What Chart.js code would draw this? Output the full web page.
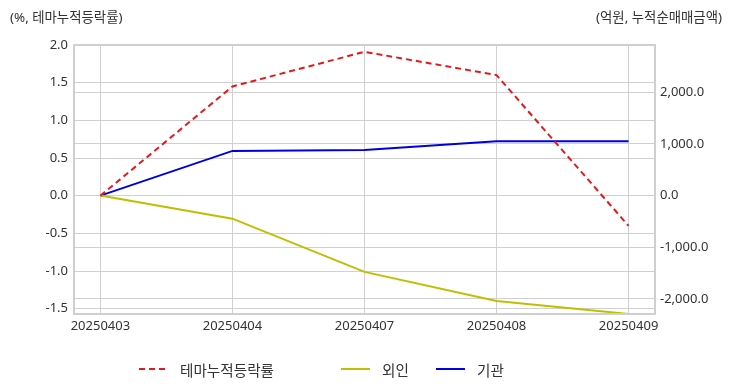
<!DOCTYPE html>
<html>
<head>
<meta charset="utf-8">
<script src="https://cdn.jsdelivr.net/npm/chart.js@4"></script>
<style>
  body { margin: 0; background: #fff; font-family: "Noto Sans", "Noto Sans CJK KR", sans-serif; }
  #wrap { position: relative; width: 732px; height: 392px; }
  #chart { position: absolute; left: 0; top: 0; }
  .unit { position: absolute; top: 6px; font-size: 13.4px; color: #333; }
  #legend { position: absolute; top: 359px; left: 0; width: 732px; height: 20px; font-size: 14.6px; color: #333; }
  .item { position: absolute; top: 0; display: flex; align-items: center; height: 20px; }
  .item svg { margin-right: 12px; }
</style>
</head>
<body>
<div id="wrap">
  <canvas id="chart" width="732" height="392"></canvas>
  <div class="unit" style="left:10px">(%, 테마누적등락률)</div>
  <div class="unit" style="right:10px">(억원, 누적순매매금액)</div>
  <div id="legend"></div>
</div>
<script>
const dates = ["20250403", "20250404", "20250407", "20250408", "20250409"];
const themeRate = [0.0, 1.45, 1.91, 1.60, -0.40];    // %, 왼쪽 축
const foreign = [0, -447, -1476, -2039, -2290];      // 억원, 오른쪽 축
const institution = [0, 864, 883, 1049, 1049];       // 억원, 오른쪽 축
const leftTicks = [-1.5, -1.0, -0.5, 0.0, 0.5, 1.0, 1.5, 2.0];
const rightTicks = [-2000, -1000, 0, 1000, 2000];

const series = [
  { label: "테마누적등락률", data: themeRate, color: "#e31a1c", dash: [6, 4], axis: "yL" },
  { label: "외인", data: foreign, color: "#bfbf00", dash: [], axis: "yR" },
  { label: "기관", data: institution, color: "#0000dd", dash: [], axis: "yR" }
];

const gridColor = "#d0d0d0";
const tickFont = { family: "'Noto Sans', 'Noto Sans CJK KR', sans-serif", size: 13 };

// 테두리
const frame = {
  id: "frame",
  afterDraw(chart) {
    const a = chart.chartArea, ctx = chart.ctx;
    ctx.save();
    ctx.strokeStyle = "#cfcfcf";
    ctx.lineWidth = 2;
    ctx.strokeRect(a.left, a.top, a.right - a.left, a.bottom - a.top);
    ctx.restore();
  }
};

new Chart(document.getElementById("chart"), {
  type: "line",
  data: {
    datasets: series.map(s => ({
      label: s.label,
      data: s.data.map((v, i) => ({ x: i, y: v })),
      borderColor: s.color,
      borderDash: s.dash,
      borderWidth: 2,
      pointRadius: 0,
      tension: 0,
      yAxisID: s.axis
    }))
  },
  options: {
    responsive: false,
    animation: false,
    layout: { padding: { top: 45, left: 0, right: 0, bottom: 0 } },
    plugins: { legend: { display: false }, tooltip: { enabled: false } },
    scales: {
      x: {
        type: "linear",
        min: -0.2,
        max: 4.2,
        afterBuildTicks: sc => { sc.ticks = dates.map((d, i) => ({ value: i })); },
        afterFit: sc => { sc.height = 78; },
        ticks: { callback: v => dates[v], color: "#333", font: tickFont, padding: 4, maxRotation: 0, autoSkip: false },
        grid: { color: gridColor, drawTicks: false },
        border: { display: false }
      },
      yL: {
        position: "left",
        min: -1.57,
        max: 2.0,
        afterBuildTicks: sc => { sc.ticks = leftTicks.map(v => ({ value: v })); },
        afterFit: sc => { sc.width = 74; },
        ticks: { callback: v => v.toFixed(1), color: "#333", font: tickFont, padding: 6 },
        grid: { color: gridColor, drawTicks: false },
        border: { display: false }
      },
      yR: {
        position: "right",
        min: -2291,
        max: 2913,
        afterBuildTicks: sc => { sc.ticks = rightTicks.map(v => ({ value: v })); },
        afterFit: sc => { sc.width = 77; },
        ticks: {
          callback: v => v.toLocaleString("en-US", { minimumFractionDigits: 1, maximumFractionDigits: 1 }),
          color: "#333", font: tickFont, padding: 5
        },
        grid: { color: gridColor, drawTicks: false },
        border: { display: false }
      }
    }
  },
  plugins: [frame]
});

// 범례
const legendPos = [139, 341, 436];
const legend = document.getElementById("legend");
series.forEach((s, i) => {
  const el = document.createElement("div");
  el.className = "item";
  el.style.left = legendPos[i] + "px";
  el.innerHTML = `<svg width="29" height="4"><line x1="0" y1="2" x2="29" y2="2" stroke="${s.color}" stroke-width="2" stroke-dasharray="${s.dash.join(",")}"/></svg>${s.label}`;
  legend.appendChild(el);
});
</script>
</body>
</html>
